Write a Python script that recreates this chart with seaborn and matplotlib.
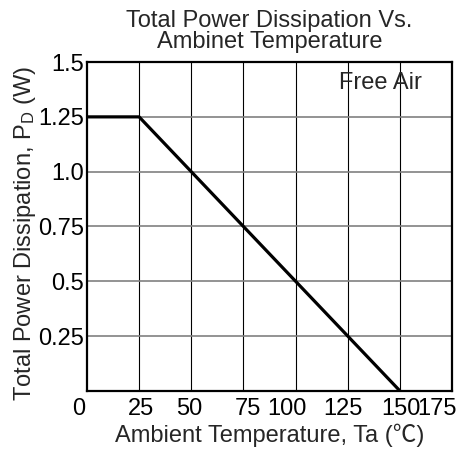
import numpy as np
import pandas as pd
import matplotlib
matplotlib.use("Agg")
import matplotlib.pyplot as plt
import matplotlib.transforms as mtransforms
import seaborn as sns

# derating curve
temp_c = [0, 25, 150]
power_w = [1.25, 1.25, 0.0]

x_ticks = [0, 25, 50, 75, 100, 125, 150, 175]
x_labels = ["0", "25", "50", "75", "100", "125", "150", "175"]
y_ticks = [0.25, 0.5, 0.75, 1.0, 1.25, 1.5]
y_labels = ["0.25", "0.5", "0.75", "1.0", "1.25", "1.5"]

sns.set_style("white")
plt.rcParams["font.family"] = ["Liberation Sans", "Noto Sans CJK SC", "DejaVu Sans"]
plt.rcParams["mathtext.fontset"] = "custom"
plt.rcParams["mathtext.rm"] = "Liberation Sans"
plt.rcParams["mathtext.it"] = "Liberation Sans"

fig = plt.figure(figsize=(4.70, 4.53), dpi=100)
ax = fig.add_axes([0.185, 0.137, 0.777, 0.726])

df = pd.DataFrame({"temp": temp_c, "power": power_w})
sns.lineplot(data=df, x="temp", y="power", ax=ax, color="black",
             linewidth=2.3, zorder=3)

ax.set_xlim(0, 175)
ax.set_ylim(0, 1.5)
ax.set_xticks(x_ticks)
ax.set_xticklabels(x_labels, fontsize=17)
ax.set_yticks(y_ticks)
ax.set_yticklabels(y_labels, fontsize=17)
ax.tick_params(length=0, colors="black")
ax.tick_params(axis="x", pad=5)
ax.tick_params(axis="y", pad=2)

# the datasheet labels sit a little off their gridlines
x_shift_px = [-8, 2, -2, 4, -9, -5, 1, -15]
for lab, dx in zip(ax.get_xticklabels(), x_shift_px):
    off = mtransforms.ScaledTranslation(dx / 100, 0, fig.dpi_scale_trans)
    lab.set_transform(lab.get_transform() + off)

# vertical grid black and thin, horizontal grid grey
for xv in x_ticks[1:-1]:
    ax.axvline(xv, color="black", linewidth=0.8, zorder=1)
for yv in y_ticks[:-1]:
    ax.axhline(yv, color="#808080", linewidth=1.2, zorder=1)

for s in ax.spines.values():
    s.set_color("black")
    s.set_linewidth(1.6)

ax.set_xlabel("Ambient Temperature, Ta (\u2103)", fontsize=17, labelpad=3)
ax.set_ylabel("Total Power Dissipation, P$_\\mathrm{D}$ (W)", fontsize=17)
ax.yaxis.set_label_coords(-0.135, 0.48)
ax.set_title("Total Power Dissipation Vs.\nAmbinet Temperature", fontsize=17,
             linespacing=0.95, pad=10)

ax.text(0.918, 0.936, "Free Air", transform=ax.transAxes, ha="right", va="center",
        fontsize=17)

fig.savefig("out.png", dpi=100)
